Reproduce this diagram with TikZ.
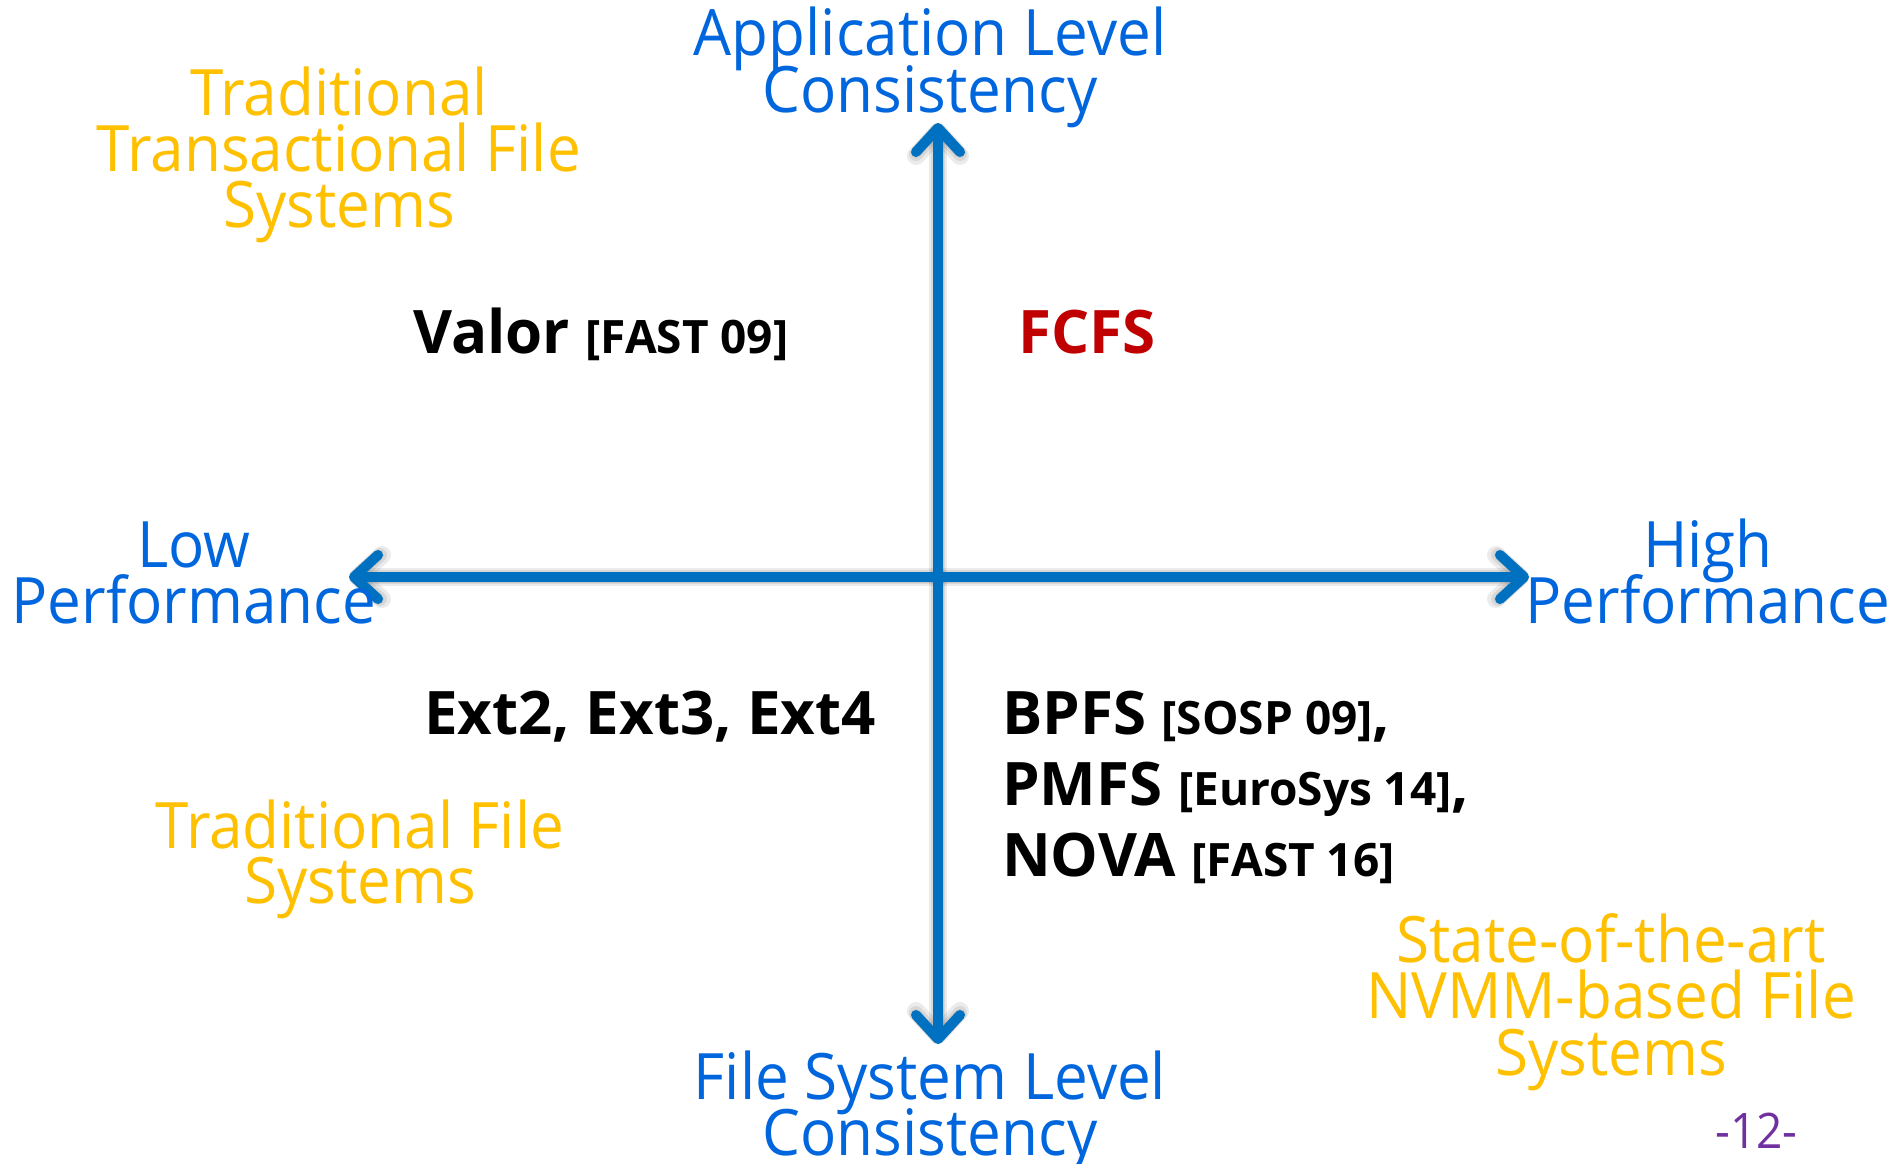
\documentclass[tikz,border=0pt]{standalone}
\usepackage{fontspec}
\setmainfont{Open Sans}[FakeStretch=0.94, BoldFeatures={FakeStretch=1.0}]
\usetikzlibrary{arrows.meta}
\definecolor{axisblue}{RGB}{0,112,192}
\definecolor{labelblue}{RGB}{0,102,221}
\definecolor{gold}{RGB}{255,192,0}
\definecolor{darkred}{RGB}{192,0,0}
\definecolor{pagepurple}{RGB}{112,48,160}
\newcommand{\refsz}{\fontsize{46}{46}\selectfont}
\begin{document}
\begin{tikzpicture}[x=1pt,y=-1pt,
  axislabel/.style={text=labelblue, font=\fontsize{64}{64}\selectfont, inner sep=0pt, anchor=base},
  catlabel/.style={text=gold, font=\fontsize{64}{64}\selectfont, inner sep=0pt, anchor=base},
  fsname/.style={font=\fontsize{60}{60}\selectfont\bfseries, inner sep=0pt, anchor=base west},
  axisline/.style={draw=axisblue, line width=10pt,
    {Straight Barb[length=24pt,width=44pt,round]}-{Straight Barb[length=24pt,width=44pt,round]}},
  axisshadow/.style={draw=black, line width=#1, opacity=0.08,
    {Straight Barb[length=24pt,width=44pt,round]}-{Straight Barb[length=24pt,width=44pt,round]}}
]
\useasboundingbox (0,0) rectangle (1893,1163);
\fill[white] (0,0) rectangle (1893,1163);

% axis end points
\coordinate (top) at (938,123);
\coordinate (bottom) at (938,1044);
\coordinate (left) at (349,577);
\coordinate (right) at (1529,577);

% soft shadows
\foreach \w in {18pt,14pt,11pt}{
  \draw[axisshadow=\w, xshift=-5pt, yshift=-5pt] (top) -- (bottom);
  \draw[axisshadow=\w, xshift=-5pt, yshift=-5pt] (left) -- (right);
}
% axes
\draw[axisline] (top) -- (bottom);
\draw[axisline] (left) -- (right);

% axis labels
\node[axislabel] (app1) at (930,55) {Application Level};
\node[axislabel] (app2) at (930,112) {Consistency};
\node[axislabel] (fsl1) at (930,1099) {File System Level};
\node[axislabel] (fsl2) at (930,1155) {Consistency};
\node[axislabel] (low1) at (194,567) {Low};
\node[axislabel] (low2) at (194,623) {Performance};
\node[axislabel] (high1) at (1708,567) {High};
\node[axislabel] (high2) at (1708,623) {Performance};

% category labels
\node[catlabel] (ttf1) at (339,115) {Traditional};
\node[catlabel] (ttf2) at (339,171) {Transactional File};
\node[catlabel] (ttf3) at (339,227) {Systems};
\node[catlabel] (tf1) at (360,848) {Traditional File};
\node[catlabel] (tf2) at (360,903) {Systems};
\node[catlabel] (nv1) at (1611,962) {State-of-the-art};
\node[catlabel] (nv2) at (1611,1018) {NVMM-based File};
\node[catlabel] (nv3) at (1611,1075) {Systems};

% file systems
\node[fsname] (valor) at (413,353) {Valor {\refsz[FAST 09]}};
\node[fsname, text=darkred] (fcfs) at (1018,353) {FCFS};
\node[fsname] (ext) at (424,734) {Ext2, Ext3, Ext4};
\node[fsname] (bpfs) at (1002,734) {BPFS {\refsz[SOSP 09]},};
\node[fsname] (pmfs) at (1002,805) {PMFS {\refsz[EuroSys 14]},};
\node[fsname] (nova) at (1002,876) {NOVA {\refsz[FAST 16]}};

% page number
\node[text=pagepurple, font=\fontsize{49}{49}\selectfont, inner sep=0pt, anchor=base west] (page) at (1715,1148) {-12-};
\end{tikzpicture}
\end{document}
